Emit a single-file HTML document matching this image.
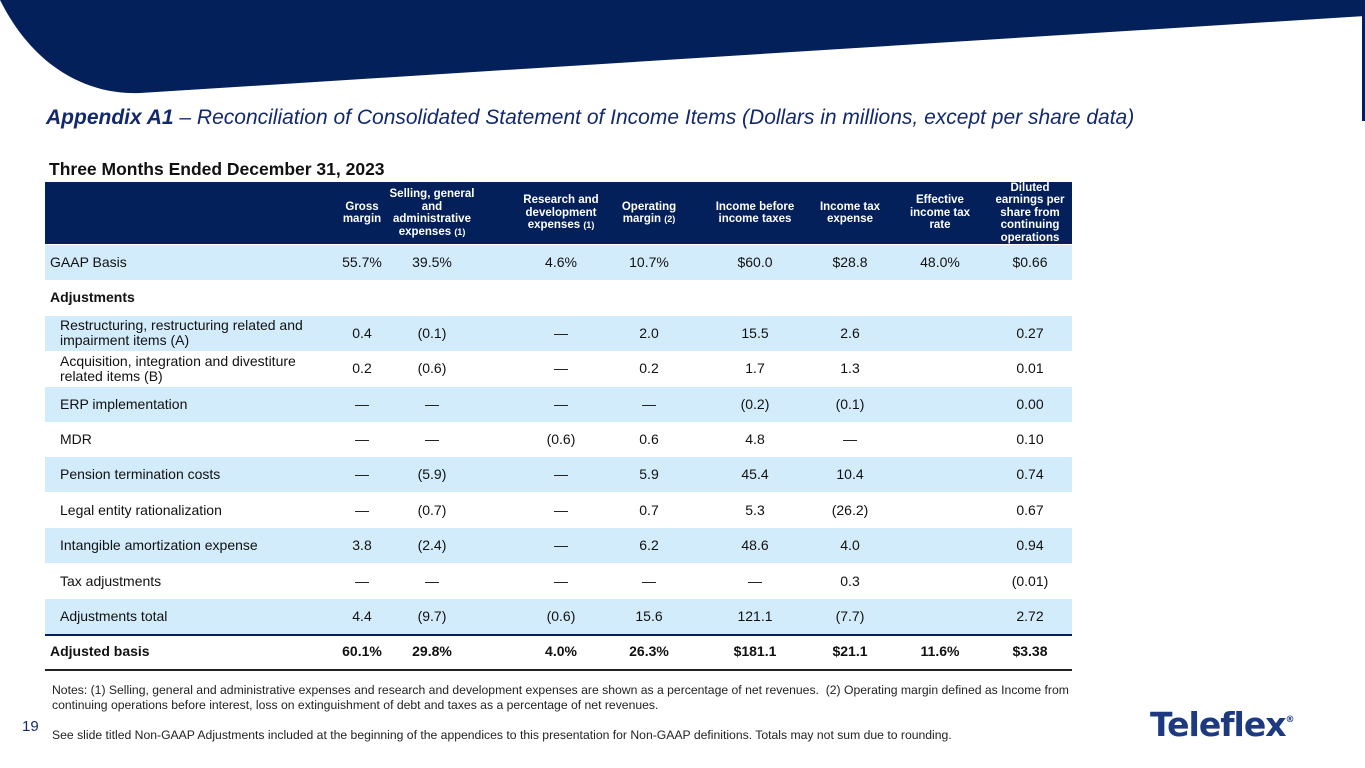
<!DOCTYPE html>
<html><head><meta charset="utf-8">
<style>
body{margin:0;width:1365px;height:768px;overflow:hidden;background:#fff;font-family:"Liberation Sans",Arial,sans-serif;position:relative;color:#111}
.a{position:absolute}
.row{position:absolute;left:45px;width:1027px;height:35px;font-size:14px}
.c{position:absolute;top:0;height:35px;line-height:35px;text-align:center;width:100px}
.h{position:absolute;top:182px;height:62px;display:flex;align-items:center;justify-content:center;text-align:center;color:#fff;font-weight:bold;font-size:11.5px;line-height:12.5px}
</style></head><body>
<svg class="a" style="left:0;top:0" width="1365" height="130">
<path d="M0,0 L1365,0 L1365,16 L140,93 C90,95 35,70 0,0 Z" fill="#03205a"/>
<rect x="1362" y="16" width="3" height="105" fill="#03205a"/>
</svg>
<div class="a" style="left:46px;top:106px;font-size:21px;font-style:italic;color:#12296e;white-space:nowrap"><b>Appendix A1</b> – Reconciliation of Consolidated Statement of Income Items (Dollars in millions, except per share data)</div>
<div class="a" style="left:49px;top:159px;font-size:17.5px;font-weight:bold;color:#111">Three Months Ended December 31, 2023</div>
<div class="a" style="left:45px;top:182px;width:1027px;height:62px;background:#03205a"></div>
<div id="t"></div>
<div class="a" style="left:52px;top:683px;font-size:12.2px;line-height:15px;color:#222;width:1060px">Notes: (1) Selling, general and administrative expenses and research and development expenses are shown as a percentage of net revenues.&nbsp; (2) Operating margin defined as Income from continuing operations before interest, loss on extinguishment of debt and taxes as a percentage of net revenues.</div>
<div class="a" style="left:52px;top:728px;font-size:12.2px;color:#222">See slide titled Non-GAAP Adjustments included at the beginning of the appendices to this presentation for Non-GAAP definitions. Totals may not sum due to rounding.</div>
<div class="a" style="left:22px;top:718px;font-size:15px;color:#12296e">19</div>
<div class="a" style="left:1150px;top:705px;font-size:33px;font-weight:900;color:#1d3a80;letter-spacing:-1px;font-family:'DejaVu Sans',sans-serif">Teleflex<span style="font-size:9px;vertical-align:14px">®</span></div>
<script>
const headers=["Gross<br>margin","Selling, general<br>and<br>administrative<br>expenses <span style='font-size:9px'>(1)</span>","Research and<br>development<br>expenses <span style='font-size:9px'>(1)</span>","Operating<br>margin <span style='font-size:9px'>(2)</span>","Income before<br>income taxes","Income tax<br>expense","Effective<br>income tax<br>rate","Diluted<br>earnings per<br>share from<br>continuing<br>operations"];
const labels=["GAAP Basis","Adjustments","Restructuring, restructuring related and impairment items (A)","Acquisition, integration and divestiture related items (B)","ERP implementation","MDR","Pension termination costs","Legal entity rationalization","Intangible amortization expense","Tax adjustments","Adjustments total","Adjusted basis"];
const values=[
["55.7%","39.5%","4.6%","10.7%","$60.0","$28.8","48.0%","$0.66"],
["","","","","","","",""],
["0.4","(0.1)","—","2.0","15.5","2.6","","0.27"],
["0.2","(0.6)","—","0.2","1.7","1.3","","0.01"],
["—","—","—","—","(0.2)","(0.1)","","0.00"],
["—","—","(0.6)","0.6","4.8","—","","0.10"],
["—","(5.9)","—","5.9","45.4","10.4","","0.74"],
["—","(0.7)","—","0.7","5.3","(26.2)","","0.67"],
["3.8","(2.4)","—","6.2","48.6","4.0","","0.94"],
["—","—","—","—","—","0.3","","(0.01)"],
["4.4","(9.7)","(0.6)","15.6","121.1","(7.7)","","2.72"],
["60.1%","29.8%","4.0%","26.3%","$181.1","$21.1","11.6%","$3.38"]];
const shaded=[1,0,1,0,1,0,1,0,1,0,1,0];
const colC=[362,432,561,649,755,850,940,1030];
const t=document.getElementById('t');
headers.forEach((h,i)=>{const d=document.createElement('div');d.className='h';


d.style.left=(colC[i]-55)+'px';d.style.width='110px';d.innerHTML='<div>'+h+'</div>';document.body.appendChild(d);});
labels.forEach((l,r)=>{const row=document.createElement('div');row.className='row';


const top=245+r*35.4;row.style.top=top+'px';
if(shaded[r])row.style.background='#d3ecfb';
const last=r==11, bold=last||r==1;
if(bold)row.style.fontWeight='bold';
const lab=document.createElement('div');lab.className='c';


lab.style.textAlign='left';lab.style.width='272px';
const ind=(r>=2&&r<=10)?15:5;lab.style.left=ind+'px';
if(l.length>45){lab.style.lineHeight='15px';lab.style.display='flex';lab.style.alignItems='center';}
lab.textContent=l;row.appendChild(lab);
values[r].forEach((v,i)=>{const c=document.createElement('div');c.className='c';


c.style.left=(colC[i]-45-50)+'px';c.textContent=v;row.appendChild(c);});
t.appendChild(row);});
[[634,'#03205a'],[669,'#222']].forEach(([y,col])=>{const ln=document.createElement('div');ln.className='a';


ln.style.cssText='left:45px;width:1027px;height:2px;top:'+y+'px;background:'+col;document.body.appendChild(ln);});
</script>
</body></html>
